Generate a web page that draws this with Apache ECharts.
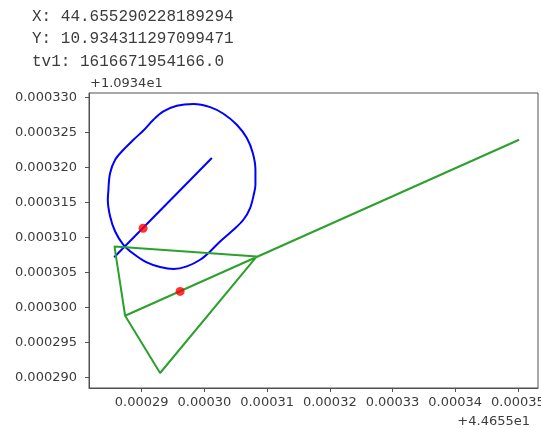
<!DOCTYPE html>
<html><head><meta charset="utf-8">
<script src="https://cdn.jsdelivr.net/npm/echarts@6/dist/echarts.min.js"></script>
<style>html,body{margin:0;padding:0;background:#fff}#c{width:541px;height:428px}</style>
</head><body><div id="c"></div>
<script>
// Header text lines
const infoLines = ['X: 44.655290228189294', 'Y: 10.934311297099471', 'tv1: 1616671954166.0'];
const xOffsetLabel = '+4.4655e1';
const yOffsetLabel = '+1.0934e1';

// Tick values (offsets from 44.655 / 10.934)
const xTicks = [0.00029, 0.00030, 0.00031, 0.00032, 0.00033, 0.00034, 0.00035];
const yTicks = [0.000290, 0.000295, 0.000300, 0.000305, 0.000310, 0.000315, 0.000320, 0.000325, 0.000330];

// Blue outline (closed)
const outlineX = [0.00028470, 0.00028497, 0.00028577, 0.00028709, 0.00028869, 0.00029028, 0.00029187, 0.00029347,
  0.00029561, 0.00029825, 0.00030091, 0.00030304, 0.00030517, 0.00030677, 0.00030772, 0.00030814, 0.00030814,
  0.00030793, 0.00030729, 0.00030622, 0.00030463, 0.00030251, 0.00030091, 0.00029932, 0.00029720, 0.00029506,
  0.00029294, 0.00029082, 0.00028869, 0.00028709, 0.00028577, 0.00028497, 0.00028460, 0.00028470];
const outlineY = [0.00031679, 0.00031918, 0.00032107, 0.00032250, 0.00032393, 0.00032525, 0.00032678, 0.00032797,
  0.00032878, 0.00032902, 0.00032859, 0.00032764, 0.00032607, 0.00032417, 0.00032203, 0.00031965, 0.00031751,
  0.00031632, 0.00031418, 0.00031251, 0.00031108, 0.00030941, 0.00030799, 0.00030680, 0.00030585, 0.00030548,
  0.00030576, 0.00030642, 0.00030766, 0.00030894, 0.00031084, 0.00031298, 0.00031537, 0.00031679];

// Blue centre segment
const centerX = [0.00028561, 0.00030119];
const centerY = [0.00030716, 0.00032132];

// Green polyline
const greenX = [0.00035018, 0.00028736, 0.00028566, 0.00030836, 0.00029294, 0.00028736];
const greenY = [0.00032393, 0.00029881, 0.00030870, 0.00030727, 0.00029064, 0.00029881];

// Red points
const dotsX = [0.000290228189294, 0.00029613];
const dotsY = [0.000311297099471, 0.00030228];

const zip = (a, b) => a.map((v, i) => [v, b[i]]);

const chart = echarts.init(document.getElementById('c'), null, {renderer: 'canvas'});
const axisColor = '#505050';
const textColor = '#3c3c3c';
const labelFont = 'DejaVu Sans';

chart.setOption({
  animation: false,
  backgroundColor: '#fff',
  grid: {left: 89, right: 3, top: 93, bottom: 40, containLabel: false, outerBoundsMode: 'none',
    show: true, borderColor: axisColor, borderWidth: 1, backgroundColor: 'transparent'},
  xAxis: {
    type: 'value', min: 0.0002816, max: 0.0003532,
    axisLine: {show: true, onZero: false, lineStyle: {color: axisColor, width: 1}},
    axisTick: {show: true, length: 4, inside: false, customValues: xTicks, lineStyle: {color: axisColor}},
    axisLabel: {customValues: xTicks, margin: 8, color: textColor, fontSize: 13, fontFamily: labelFont,
      formatter: v => v.toFixed(5)},
    splitLine: {show: false}
  },
  yAxis: {
    type: 'value', min: 0.0002885, max: 0.0003306,
    axisLine: {show: true, onZero: false, lineStyle: {color: axisColor, width: 1}},
    axisTick: {show: true, length: 4, inside: false, customValues: yTicks, lineStyle: {color: axisColor}},
    axisLabel: {customValues: yTicks, margin: 12, color: textColor, fontSize: 13, fontFamily: labelFont,
      formatter: v => v.toFixed(6)},
    splitLine: {show: false}
  },
  series: [
    {type: 'line', data: zip(outlineX, outlineY), showSymbol: false, symbol: 'none', smooth: 0.35,
      lineStyle: {color: '#0000ff', width: 2}, z: 2},
    {type: 'line', data: zip(centerX, centerY), showSymbol: false, symbol: 'none',
      lineStyle: {color: '#0000ff', width: 2}, z: 2},
    {type: 'line', data: zip(greenX, greenY), showSymbol: false, symbol: 'none',
      lineStyle: {color: '#2ca02c', width: 2}, z: 3},
    {type: 'scatter', data: zip(dotsX, dotsY), symbol: 'circle', symbolSize: 9,
      itemStyle: {color: '#ff0000'}, z: 4}
  ],
  graphic: [
    ...infoLines.map((t, i) => ({type: 'text', x: 32, y: [16.7, 38.8, 61.5][i],
      style: {text: t, fill: textColor, font: '16px "Liberation Mono", "DejaVu Sans Mono", monospace', verticalAlign: 'middle'}})),
    {type: 'text', x: 90, y: 84, style: {text: yOffsetLabel, fill: textColor, font: '13px "DejaVu Sans"', verticalAlign: 'middle'}},
    {type: 'text', x: 530, y: 421.5, style: {text: xOffsetLabel, fill: textColor, font: '13px "DejaVu Sans"', align: 'right', verticalAlign: 'middle'}}
  ]
});
</script>
</body></html>
